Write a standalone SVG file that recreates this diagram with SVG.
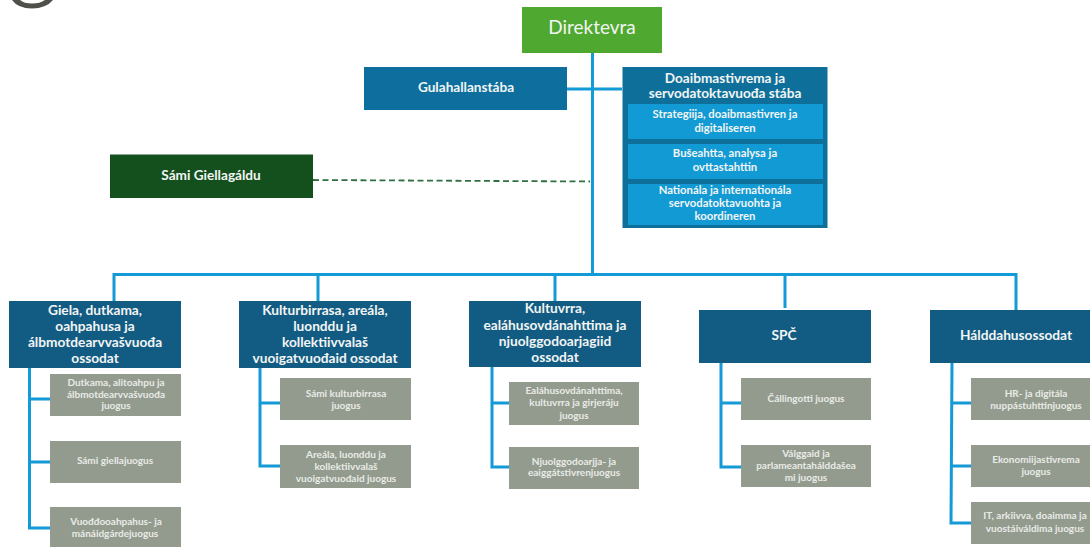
<svg xmlns="http://www.w3.org/2000/svg" width="1090" height="547" viewBox="0 0 1090 547">
<style>
text{font-family:"Lato","Liberation Sans",sans-serif;fill:#f2f5f3;text-anchor:middle;font-weight:700}
.dir{font-size:19px;font-weight:400}
.head{font-size:13.700px}
.stab{font-size:13.600px}
.inner{font-size:11.300px}
.sub{font-size:10px;fill:#e9ebe6}
.dep{fill:#125c84}
.unit{fill:#939b8f}
.line{fill:none;stroke:#149ad6;stroke-width:3}
</style>
<rect width="1090" height="547" fill="#fff"/>
<path id="logo-fragment" d="M12 0Q18 8.500 32 8.500Q46 8.500 53 0H45Q40 3.500 32 3.500Q24 3.500 20 0Z" fill="#4f504a"/>
<g id="connectors">
<path class="line" d="M592.500 53V275M567 89H622M114 306V274.500H1016V310M318 305V274.500M555 305V274.500M785 308V274.500"/>
<path class="line" d="M29.500 368V528H50M29.500 399H50M29.500 462H50"/>
<path class="line" d="M260 368V466H280M260 403H280"/>
<path class="line" d="M492 362V467H509M492 403H509"/>
<path class="line" d="M721 363V467H741M721 403H741"/>
<path class="line" d="M952 363L951 523H971M951.500 403H971M951.500 466H971"/>
<path d="M313 180L590 181.500" fill="none" stroke="#2f6f42" stroke-width="1.800" stroke-dasharray="6 3.500"/>
</g>
<g id="direktevra"><rect x="522" y="7" width="140" height="46" fill="#4fa82f"/><text class="dir" x="592" y="34">Direktevra</text></g>
<g id="gulahallan"><rect x="364" y="67" width="203" height="43" fill="#0e6f9f"/><text class="stab" x="466" y="92">Gulahallanstába</text></g>
<g id="stab"><rect x="622.500" y="67" width="205" height="161" fill="#0e6f9b"/>
<text class="stab" x="725" y="83">Doaibmastivrema ja</text><text class="stab" x="725" y="98">servodatoktavuođa stába</text>
<rect x="628" y="104" width="195" height="35" fill="#129ad4"/>
<text class="inner" x="725" y="118">Strategiija, doaibmastivren ja</text><text class="inner" x="725" y="132">digitaliseren</text>
<rect x="628" y="144" width="195" height="35" fill="#129ad4"/>
<text class="inner" x="725" y="157">Bušeahtta, analysa ja</text><text class="inner" x="725" y="171">ovttastahttin</text>
<rect x="628" y="184" width="195" height="41" fill="#129ad4"/>
<text class="inner" x="725" y="194">Nationála ja internationála</text><text class="inner" x="725" y="207">servodatoktavuohta ja</text><text class="inner" x="725" y="220">koordineren</text></g>
<g id="giellagaldu"><rect x="110" y="154.500" width="203" height="43.500" fill="#13501d"/><text class="stab" x="211" y="180">Sámi Giellagáldu</text></g>
<g id="dept1"><rect class="dep" x="9" y="301" width="172" height="67"/>
<text class="head" x="95" y="315">Giela, dutkama,</text><text class="head" x="95" y="331">oahpahusa ja</text><text class="head" x="95" y="347">álbmotdearvvašvuođa</text><text class="head" x="95" y="363">ossodat</text></g>
<g id="dept2"><rect class="dep" x="239" y="301" width="172" height="67"/>
<text class="head" x="325" y="315">Kulturbirrasa, areála,</text><text class="head" x="325" y="331">luonddu ja</text><text class="head" x="325" y="347">kollektiivvalaš</text><text class="head" x="325" y="363">vuoigatvuođaid ossodat</text></g>
<g id="dept3"><rect class="dep" x="469" y="301" width="172" height="66"/>
<text class="head" x="555" y="313">Kultuvrra,</text><text class="head" x="555" y="330">ealáhusovdánahttima ja</text><text class="head" x="555" y="346">njuolggodoarjagiid</text><text class="head" x="555" y="362">ossodat</text></g>
<g id="dept4"><rect class="dep" x="699" y="310" width="172" height="53"/><text class="head" x="784" y="340">SPČ</text></g>
<g id="dept5"><rect class="dep" x="930" y="310" width="160" height="53"/><text class="head" x="1016" y="340">Hálddahusossodat</text></g>
<g id="unit1a"><rect class="unit" x="50" y="374" width="131" height="42"/><text class="sub" x="116" y="386">Dutkama, alitoahpu ja</text><text class="sub" x="116" y="398">álbmotdearvvašvuođa</text><text class="sub" x="116" y="409">juogus</text></g>
<g id="unit1b"><rect class="unit" x="50" y="441" width="131" height="42"/><text class="sub" x="115" y="464">Sámi giellajuogus</text></g>
<g id="unit1c"><rect class="unit" x="50" y="507" width="131" height="40"/><text class="sub" x="116" y="525">Vuođđooahpahus- ja</text><text class="sub" x="115" y="537">mánáidgárdejuogus</text></g>
<g id="unit2a"><rect class="unit" x="280" y="378" width="131" height="42"/><text class="sub" x="346" y="397">Sámi kulturbirrasa</text><text class="sub" x="346" y="409">juogus</text></g>
<g id="unit2b"><rect class="unit" x="280" y="445" width="131" height="43"/><text class="sub" x="346" y="458">Areála, luonddu ja</text><text class="sub" x="346" y="470">kollektiivvalaš</text><text class="sub" x="346" y="482">vuoigatvuođaid juogus</text></g>
<g id="unit3a"><rect class="unit" x="509" y="382" width="130" height="43"/><text class="sub" x="574" y="394">Ealáhusovdánahttima,</text><text class="sub" x="574" y="406">kultuvrra ja girjeráju</text><text class="sub" x="574" y="419">juogus</text></g>
<g id="unit3b"><rect class="unit" x="509" y="447" width="130" height="42"/><text class="sub" x="574" y="465">Njuolggodoarjja- ja</text><text class="sub" x="574" y="476">eaiggátstivrenjuogus</text></g>
<g id="unit4a"><rect class="unit" x="741" y="378" width="130" height="42"/><text class="sub" x="806" y="402">Čállingotti juogus</text></g>
<g id="unit4b"><rect class="unit" x="741" y="445" width="130" height="42"/><text class="sub" x="806" y="457">Válggaid ja</text><text class="sub" x="806" y="469">parlameantahálddašea</text><text class="sub" x="806" y="481">mi juogus</text></g>
<g id="unit5a"><rect class="unit" x="971" y="378" width="119" height="42"/><text class="sub" x="1036" y="397">HR- ja digitála</text><text class="sub" x="1036" y="409">nuppástuhttinjuogus</text></g>
<g id="unit5b"><rect class="unit" x="971" y="445" width="119" height="42"/><text class="sub" x="1036" y="463">Ekonomiijastivrema</text><text class="sub" x="1036" y="475">juogus</text></g>
<g id="unit5c"><rect class="unit" x="971" y="502" width="119" height="42"/><text class="sub" x="1035" y="519">IT, arkiivva, doaimma ja</text><text class="sub" x="1035" y="532">vuostáiváldima juogus</text></g>
</svg>
